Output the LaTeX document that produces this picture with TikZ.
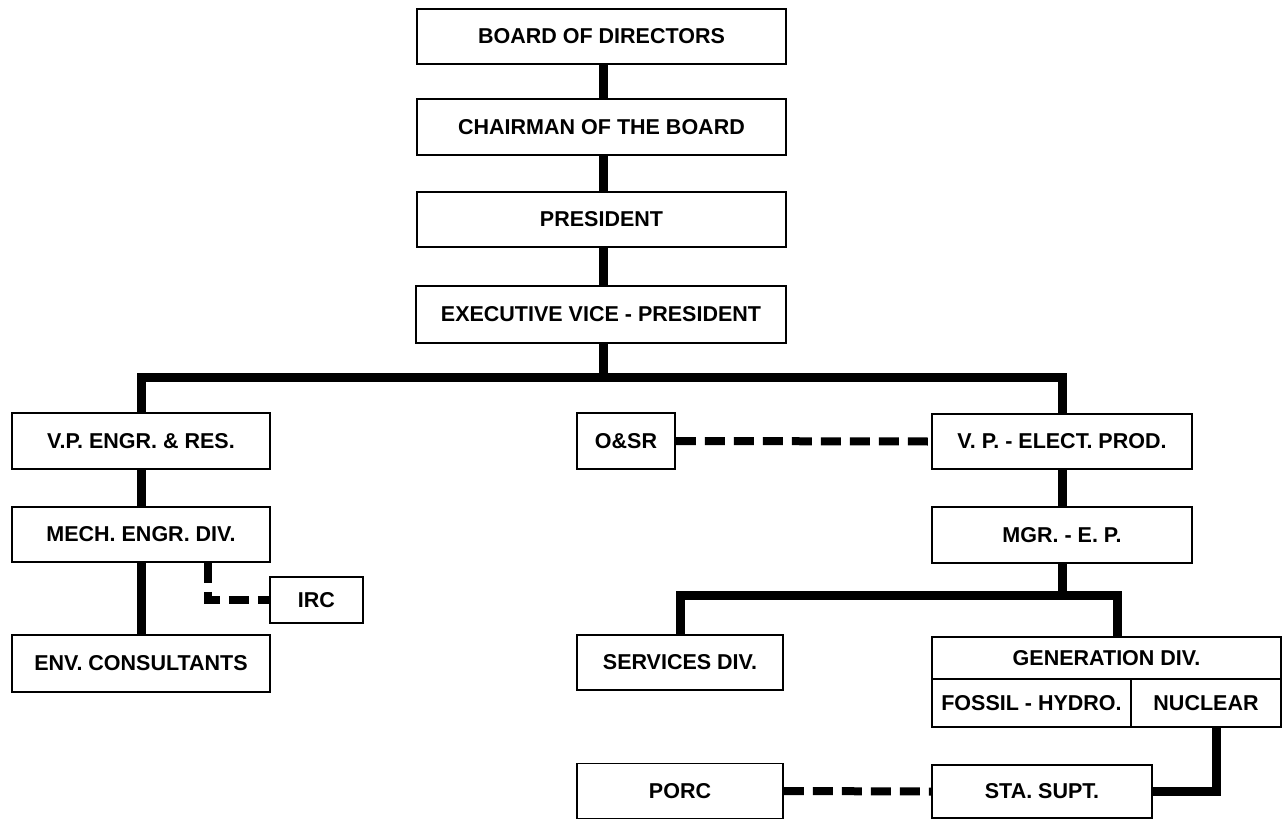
\documentclass[tikz,border=0pt]{standalone}
\usepackage{fontspec}
\setmainfont{Liberation Sans}
\begin{document}
\begin{tikzpicture}[x=1pt,y=-1pt,
  box/.style={draw, line width=1.6pt, inner sep=0pt, font=\fontsize{21.5}{24}\selectfont\bfseries, align=center},
  conn/.style={line width=9pt},
  dconn/.style={line width=8pt, dash pattern=on 20pt off 9pt}]
\useasboundingbox (0,0) rectangle (1286,820);
% top chain
\node[box, minimum width=369pt, minimum height=55pt] (bod) at (601.5,36.5) {BOARD OF DIRECTORS};
\node[box, minimum width=369pt, minimum height=56pt] (chair) at (601.5,127) {CHAIRMAN OF THE BOARD};
\node[box, minimum width=369pt, minimum height=55pt] (pres) at (601.5,219.5) {PRESIDENT};
\node[box, minimum width=370pt, minimum height=57pt] (exec) at (601,314.5) {EXECUTIVE VICE - PRESIDENT};
% left column
\node[box, minimum width=258pt, minimum height=56pt] (vpe) at (141,441) {V.P. ENGR. \& RES.};
\node[box, minimum width=258pt, minimum height=55pt] (mech) at (141,534.5) {MECH. ENGR. DIV.};
\node[box, minimum width=258pt, minimum height=57pt] (env) at (141,663.5) {ENV. CONSULTANTS};
\node[box, minimum width=93pt, minimum height=46pt] (irc) at (316.5,600) {IRC};
% right side
\node[box, minimum width=98pt, minimum height=56pt] (osr) at (626,441) {O\&SR};
\node[box, minimum width=260pt, minimum height=55pt] (vpep) at (1062,441.5) {V. P. - ELECT. PROD.};
\node[box, minimum width=260pt, minimum height=56pt] (mgr) at (1062,535) {MGR. - E. P.};
\node[box, minimum width=206pt, minimum height=55pt] (serv) at (680,662.5) {SERVICES DIV.};
\node[box, minimum width=349pt, minimum height=42pt] (gen) at (1106.5,658) {GENERATION DIV.};
\node[box, minimum width=199pt, minimum height=48pt] (fossil) at (1031.5,703) {FOSSIL - HYDRO.};
\node[box, minimum width=150pt, minimum height=48pt] (nuc) at (1206,703) {NUCLEAR};
\node[box, minimum width=206pt, minimum height=55pt] (porc) at (680,791) {PORC};
\node[box, minimum width=220pt, minimum height=53pt] (sta) at (1042,791.5) {STA. SUPT.};
% connectors
\coordinate (bus) at (603,377);
\coordinate (bus2) at (1062,595);
\draw[conn] (bod.south -| bus) -- (chair.north -| bus);
\draw[conn] (chair.south -| bus) -- (pres.north -| bus);
\draw[conn] (pres.south -| bus) -- (exec.north -| bus);
\draw[conn] (exec.south -| bus) -- (bus);
\draw[conn] (vpe.north) |- (bus) -| (vpep.north);
\draw[conn] (vpe.south) -- (mech.north);
\draw[conn] (mech.south) -- (env.north);
\draw[conn] (vpep.south) -- (mgr.north);
\draw[conn] (mgr.south) -- (bus2);
\draw[conn] (serv.north) |- (bus2) -| ([xshift=10.5pt]gen.north);
\draw[conn] ([xshift=10pt]nuc.south) |- (sta.east);
\draw[dconn] ([xshift=67pt]mech.south) |- (irc.west);
\draw[dconn] (osr.east) -- (vpep.west);
\draw[dconn] (porc.east) -- (sta.west);
\end{tikzpicture}
\end{document}
